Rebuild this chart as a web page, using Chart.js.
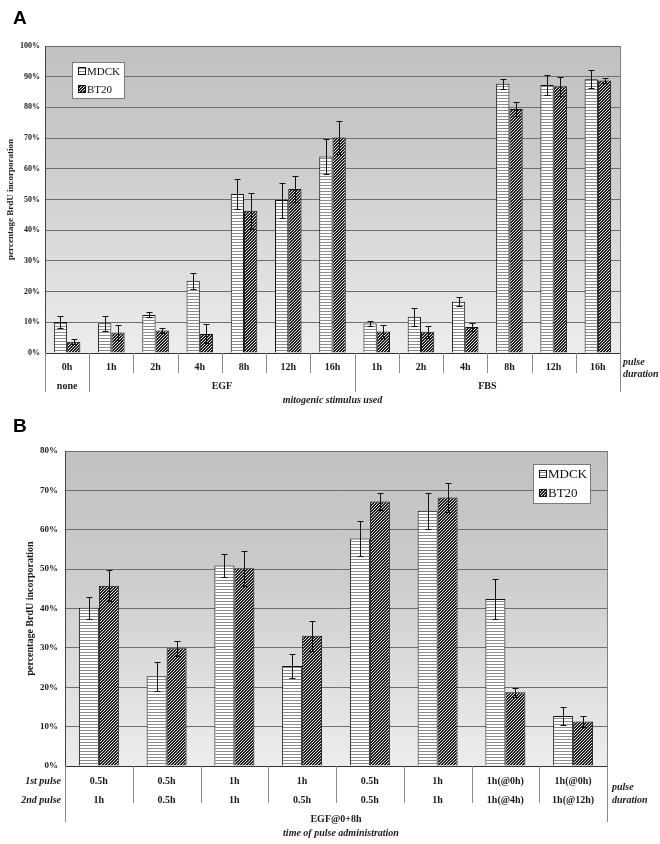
<!DOCTYPE html>
<html>
<head>
<meta charset="utf-8">
<script src="https://cdn.jsdelivr.net/npm/chart.js@4.4.1/dist/chart.umd.min.js"></script>
<style>
  html, body { margin: 0; padding: 0; background: #fff; }
  #wrapA { position: absolute; left: 0; top: 0; width: 660px; height: 410px; }
  #wrapB { position: absolute; left: 0; top: 410px; width: 660px; height: 434px; }
</style>
</head>
<body>
<div id="wrapA"><canvas id="chartA" width="660" height="410"></canvas></div>
<div id="wrapB"><canvas id="chartB" width="660" height="434"></canvas></div>
<script>
// ---- panel A: pulse duration after mitogen ----
const labelsA = ['0h', '1h', '2h', '4h', '8h', '12h', '16h', '1h', '2h', '4h', '8h', '12h', '16h'];
const groupsA = [['none', 0, 0], ['EGF', 1, 6], ['FBS', 7, 12]];
const mdckA = [10.1, 9.7, 12.4, 23.5, 51.8, 49.8, 64.0, 9.6, 11.8, 16.7, 87.7, 87.3, 89.2];
const mdckErrA = [2.0, 2.4, 0.8, 2.6, 4.8, 5.7, 5.8, 0.8, 2.9, 1.5, 1.7, 3.4, 3.0];
const bt20A = [3.7, 6.7, 7.3, 6.2, 46.3, 53.4, 70.2, 7.0, 6.9, 8.5, 79.5, 86.9, 88.8];
const bt20ErrA = [0.9, 2.5, 0.9, 3.1, 5.9, 4.2, 5.3, 2.0, 1.9, 1.3, 2.3, 3.1, 0.9];

// ---- panel B: two pulses, EGF @0+8h ----
const firstPulseB = ['0.5h', '0.5h', '1h', '1h', '0.5h', '1h', '1h(@0h)', '1h(@0h)'];
const secondPulseB = ['1h', '0.5h', '1h', '0.5h', '0.5h', '1h', '1h(@4h)', '1h(@12h)'];
const mdckB = [40.2, 22.8, 50.9, 25.4, 57.8, 64.8, 42.4, 12.7];
const mdckErrB = [2.8, 3.7, 3.0, 3.0, 4.5, 4.6, 5.1, 2.4];
const bt20B = [45.8, 29.9, 50.2, 33.1, 67.2, 68.2, 18.7, 11.3];
const bt20ErrB = [4.0, 1.9, 4.4, 3.8, 2.2, 3.6, 1.2, 1.5];

const SERIF = "'Liberation Serif', 'DejaVu Serif', serif";

// fill patterns: MDCK = horizontal stripes, BT20 = dense diagonal hatch
function stripePattern() {
    const c = document.createElement('canvas');
    c.width = 4; c.height = 3;
    const g = c.getContext('2d');
    g.fillStyle = '#ffffff'; g.fillRect(0, 0, 4, 3);
    g.fillStyle = '#8c8c8c'; g.fillRect(0, 2, 4, 1);
    return g.createPattern(c, 'repeat');
}
function hatchPattern() {
    const c = document.createElement('canvas');
    c.width = 3; c.height = 3;
    const g = c.getContext('2d');
    const img = g.createImageData(3, 3);
    for (let y = 0; y < 3; y++) {
        for (let x = 0; x < 3; x++) {
            const dark = (x + y) % 3 < 2;
            const v = dark ? 30 : 225;
            const i = (y * 3 + x) * 4;
            img.data[i] = v; img.data[i + 1] = v; img.data[i + 2] = v; img.data[i + 3] = 255;
        }
    }
    g.putImageData(img, 0, 0);
    return g.createPattern(c, 'repeat');
}
const mdckFill = stripePattern();
const bt20Fill = hatchPattern();

function makeDecor(cfg) {
    return {
        id: 'decor',
        beforeDraw(chart) {
            const { ctx, chartArea: a } = chart;
            const grad = ctx.createLinearGradient(0, a.top, 0, a.bottom);
            grad.addColorStop(0, '#c1c1c1');
            grad.addColorStop(0.35, '#cacaca');
            grad.addColorStop(1, '#ededed');
            ctx.save();
            ctx.fillStyle = grad;
            ctx.fillRect(a.left, a.top, a.right - a.left, a.bottom - a.top);
            ctx.restore();
        },
        afterDatasetsDraw(chart) {
            const { ctx } = chart;
            const ys = chart.scales.y;
            ctx.save();
            ctx.strokeStyle = '#111';
            ctx.lineWidth = 1;
            chart.data.datasets.forEach((ds, d) => {
                const errs = cfg.errs[d];
                chart.getDatasetMeta(d).data.forEach((bar, i) => {
                    const x = Math.round(bar.x) + 0.5;
                    const t = Math.round(ys.getPixelForValue(ds.data[i] + errs[i])) + 0.5;
                    const b = Math.round(ys.getPixelForValue(ds.data[i] - errs[i])) + 0.5;
                    ctx.beginPath();
                    ctx.moveTo(x, t); ctx.lineTo(x, b);
                    ctx.moveTo(x - cfg.cap, t); ctx.lineTo(x + cfg.cap, t);
                    ctx.moveTo(x - cfg.cap, b); ctx.lineTo(x + cfg.cap, b);
                    ctx.stroke();
                });
            });
            ctx.restore();
        },
        afterDraw(chart) {
            const { ctx, chartArea: a } = chart;
            const xs = chart.scales.x;
            const n = chart.data.labels.length;
            ctx.save();
            // right edge of plot
            ctx.strokeStyle = '#808080';
            ctx.lineWidth = 1;
            ctx.beginPath();
            ctx.moveTo(Math.round(a.right) + 0.5, a.top);
            ctx.lineTo(Math.round(a.right) + 0.5, a.bottom);
            ctx.stroke();
            // separators in the label area
            ctx.strokeStyle = '#8a8a8a';
            for (let i = 0; i <= n; i++) {
                let x;
                if (i === 0) x = a.left;
                else if (i === n) x = a.right;
                else x = (xs.getPixelForValue(i - 1) + xs.getPixelForValue(i)) / 2;
                const long = i === 0 || i === n || cfg.longSep.includes(i);
                ctx.beginPath();
                ctx.moveTo(Math.round(x) + 0.5, a.bottom);
                ctx.lineTo(Math.round(x) + 0.5, a.bottom + (long ? cfg.longLen : cfg.shortLen));
                ctx.stroke();
            }
            // text below the axis
            ctx.fillStyle = '#1a1a1a';
            ctx.textBaseline = 'middle';
            ctx.textAlign = 'center';
            ctx.font = 'bold 10px ' + SERIF;
            (cfg.groups || []).forEach(([name, s, e]) => {
                const cx = (xs.getPixelForValue(s) + xs.getPixelForValue(e)) / 2;
                ctx.fillText(name, cx, a.bottom + cfg.groupDy);
            });
            const mid = (a.left + a.right) / 2;
            (cfg.captions || []).forEach(c => {
                ctx.font = c.font + ' 10px ' + SERIF;
                ctx.fillText(c.text, mid + (c.dx || 0), a.bottom + c.dy);
            });
            ctx.font = 'italic bold 10px ' + SERIF;
            ctx.textAlign = 'left';
            ctx.fillText('pulse', a.right + cfg.pdDx, a.bottom + cfg.pdDy[0]);
            ctx.fillText('duration', a.right + cfg.pdDx, a.bottom + cfg.pdDy[1]);
            if (cfg.rowTitles) {
                ctx.textAlign = 'right';
                cfg.rowTitles.forEach((t, k) => ctx.fillText(t, a.left - 4, a.bottom + cfg.rowDy[k]));
            }
            // legend box
            const L = cfg.legend;
            const lx = L.fromRight ? a.right - L.dx - L.w : a.left + L.dx;
            const ly = a.top + L.dy;
            ctx.fillStyle = '#ffffff';
            ctx.fillRect(lx, ly, L.w, L.h);
            ctx.strokeStyle = '#7a7a7a';
            ctx.strokeRect(Math.round(lx) + 0.5, Math.round(ly) + 0.5, L.w, L.h);
            ctx.font = L.size + 'px ' + SERIF;
            ctx.textAlign = 'left';
            chart.data.datasets.forEach((ds, d) => {
                const ry = ly + L.row0 + d * L.rowGap;
                ctx.fillStyle = ds.backgroundColor;
                ctx.fillRect(lx + 6, ry - 3, 7, 7);
                ctx.strokeStyle = '#111';
                ctx.strokeRect(lx + 6.5, ry - 3.5, 7, 7);
                ctx.fillStyle = '#111';
                ctx.fillText(ds.label, lx + 15, ry + 1);
            });
            // panel letter
            ctx.font = 'bold 19px "Liberation Sans", Arial, sans-serif';
            ctx.textBaseline = 'alphabetic';
            ctx.fillStyle = '#000';
            ctx.fillText(cfg.letter, 13, cfg.letterY);
            ctx.restore();
        }
    };
}

function barOptions(o) {
    return {
        responsive: false,
        animation: false,
        devicePixelRatio: 1,
        layout: { padding: o.padding },
        plugins: { legend: { display: false }, tooltip: { enabled: false } },
        datasets: { bar: { categoryPercentage: o.catPct, barPercentage: 1.0 } },
        scales: {
            x: {
                grid: { display: false, drawTicks: false },
                border: { display: true, color: '#333', width: 1 },
                ticks: {
                    autoSkip: false, maxRotation: 0, color: '#1a1a1a', padding: o.xPad,
                    font: { family: SERIF, size: 10, weight: 'bold', lineHeight: o.xLine }
                },
                afterFit: s => { s.height = o.xHeight; }
            },
            y: {
                min: 0, max: o.yMax,
                grid: { color: '#6e6e6e', lineWidth: 1, drawTicks: false },
                border: { display: true, color: '#444', width: 1 },
                ticks: {
                    stepSize: 10, padding: o.yPad, color: '#1a1a1a',
                    font: { family: SERIF, size: o.yFont, weight: 'bold' },
                    callback: v => v + '%'
                },
                title: {
                    display: true, text: 'percentage BrdU incorporation', color: '#1a1a1a',
                    font: { family: SERIF, size: o.titleFont, weight: 'bold' },
                    padding: { top: o.titlePad, bottom: 0 }
                },
                afterFit: s => { s.width = o.yWidth; }
            }
        }
    };
}

new Chart(document.getElementById('chartA'), {
    type: 'bar',
    data: {
        labels: labelsA,
        datasets: [
            { label: 'MDCK', data: mdckA, backgroundColor: mdckFill, borderColor: '#111', borderWidth: 1 },
            { label: 'BT20', data: bt20A, backgroundColor: bt20Fill, borderColor: '#111', borderWidth: 1 }
        ]
    },
    options: barOptions({
        padding: { top: 46, right: 40, left: 0, bottom: 0 },
        catPct: 0.6, xPad: 8, xLine: 1.2, xHeight: 57, yMax: 100,
        yPad: 5, yFont: 8, titleFont: 9, titlePad: 5, yWidth: 45
    }),
    plugins: [makeDecor({
        errs: [mdckErrA, bt20ErrA], cap: 3,
        longSep: [1, 7], shortLen: 20, longLen: 39,
        groups: groupsA, groupDy: 33,
        captions: [{ text: 'mitogenic stimulus used', font: 'italic bold', dy: 47 }],
        pdDx: 3, pdDy: [9, 21],
        legend: { fromRight: false, dx: 27, dy: 16, w: 52, h: 36, size: 11, row0: 9, rowGap: 18 },
        letter: 'A', letterY: 24
    })]
});

new Chart(document.getElementById('chartB'), {
    type: 'bar',
    data: {
        labels: firstPulseB.map((f, i) => [f, secondPulseB[i]]),
        datasets: [
            { label: 'MDCK', data: mdckB, backgroundColor: mdckFill, borderColor: '#111', borderWidth: 1 },
            { label: 'BT20', data: bt20B, backgroundColor: bt20Fill, borderColor: '#111', borderWidth: 1 }
        ]
    },
    options: barOptions({
        padding: { top: 41, right: 53, left: 0, bottom: 0 },
        catPct: 0.59, xPad: 6, xLine: '19px', xHeight: 78, yMax: 80,
        yPad: 7, yFont: 9, titleFont: 10, titlePad: 24, yWidth: 65
    }),
    plugins: [makeDecor({
        errs: [mdckErrB, bt20ErrB], cap: 3,
        longSep: [], shortLen: 37, longLen: 56,
        groups: [],
        captions: [
            { text: 'EGF@0+8h', font: 'bold', dy: 53 },
            { text: 'time of pulse administration', font: 'italic bold', dy: 67, dx: 5 }
        ],
        rowTitles: ['1st pulse', '2nd pulse'], rowDy: [15, 34],
        pdDx: 5, pdDy: [21, 34],
        legend: { fromRight: true, dx: 17, dy: 13, w: 57, h: 39, size: 13, row0: 10, rowGap: 19 },
        letter: 'B', letterY: 22
    })]
});
</script>
</body>
</html>
